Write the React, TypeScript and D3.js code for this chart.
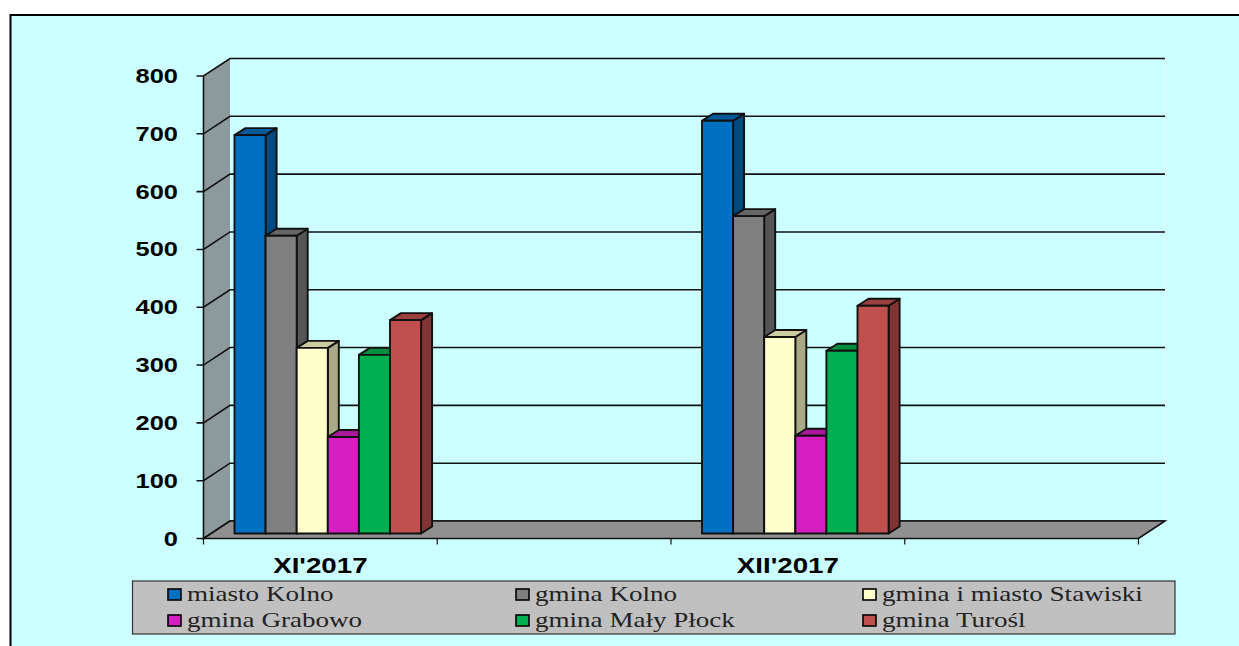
import React from "react";
import * as d3 from "d3";

const categories = ["XI'2017", "", "XII'2017", ""];
const seriesNames = ["miasto Kolno", "gmina Kolno", "gmina i miasto Stawiski", "gmina Grabowo", "gmina Mały Płock", "gmina Turośl"];
const valuesXI = [689, 515, 321, 167, 309, 369];
const valuesXII = [714, 549, 340, 169, 316, 394];
const yTicks = [0, 100, 200, 300, 400, 500, 600, 700, 800];
const fronts = ["#0070C0", "#808080", "#FFFFCC", "#D51FC0", "#00B050", "#C0504D"];
const sides = ["#004A80", "#555555", "#A9A986", "#8E1580", "#007535", "#803533"];
const tops = ["#005A9A", "#666666", "#CCCCA3", "#AA199A", "#008D40", "#9A403E"];

const x = d3.scaleBand().domain(categories.map((c, i) => String(i))).range([203.5, 1138.5]);
const y = d3.scaleLinear().domain([0, 800]).range([538.5, 76]);
const WALL_DX = 26.5, WALL_DY = -17.5;
const BAR_DX = 11, BAR_DY = -7;
const BAR_OFF_X = 31, BAR_OFF_Y = -5;
const BAR_W = 31.1;
const INK = "#111";

const pts = (a: number[][]) => a.map((p) => p.join(",")).join(" ");

function Stretch({ x: px, y: py, sx, anchor, children, style }: any) {
  return (
    <text transform={`translate(${px},${py}) scale(${sx},1)`} textAnchor={anchor} style={style}>
      {children}
    </text>
  );
}

const axisFont = { fontFamily: "'Liberation Sans', Arial, sans-serif", fontWeight: 700, fontSize: 20, fill: "#000" };
const catFont = { ...axisFont, fontSize: 22 };
const legendFont = { fontFamily: "'Liberation Serif', serif", fontSize: 20.5, fill: "#222" };

const legendCols = [168, 516, 863];

export default function App() {
  const left = x.range()[0], right = x.range()[1];
  const y0 = y(0), yTop = y(800);
  const groups = [
    { band: "0", values: valuesXI },
    { band: "2", values: valuesXII },
  ];
  return (
    <svg width={1239} height={646} style={{ position: "absolute", left: 0, top: 0 }}>
      <rect width={1239} height={646} fill="#fff" />
      <rect x={10} y={15} width={1229} height={631} fill="#CCFFFF" />
      <path d="M10.5,646V15H1239" fill="none" stroke="#000" strokeWidth={2} />

      {/* side wall */}
      <polygon points={pts([[left, y0], [left + WALL_DX, y0 + WALL_DY], [left + WALL_DX, yTop + WALL_DY], [left, yTop]])} fill="#8C9A9E" />
      <line x1={right + WALL_DX} x2={right + WALL_DX} y1={yTop + WALL_DY} y2={y0 + WALL_DY} stroke="#E4F6F6" />

      {/* gridlines */}
      {yTicks.map((t) => (
        <g key={t}>
          <path d={`M${left - 7},${y(t)}H${left}L${left + WALL_DX},${y(t) + WALL_DY}H${right + WALL_DX}`} fill="none" stroke={INK} strokeWidth={1.6} />
          <Stretch x={178} y={y(t) + 7} sx={1.27} anchor="end" style={axisFont}>{t}</Stretch>
        </g>
      ))}
      <line x1={left} x2={left} y1={yTop} y2={y0} stroke={INK} strokeWidth={1.6} />

      {/* floor */}
      <polygon points={pts([[left, y0], [right, y0], [right + WALL_DX, y0 + WALL_DY], [left + WALL_DX, y0 + WALL_DY]])} fill="#909090" stroke={INK} strokeWidth={1.6} />

      {/* category ticks and labels */}
      {d3.range(5).map((i) => {
        const tx = left + i * x.step();
        return <line key={i} x1={tx} x2={tx} y1={y0} y2={y0 + 6} stroke={INK} strokeWidth={1.2} />;
      })}
      {categories.map((c, i) =>
        c ? (
          <Stretch key={i} x={x(String(i))! + x.bandwidth() / 2} y={573} sx={1.26} anchor="middle" style={catFont}>{c}</Stretch>
        ) : null
      )}

      {/* bars */}
      {groups.map((g) =>
        g.values.map((v, i) => {
          const x0 = x(g.band)! + BAR_OFF_X + i * BAR_W;
          const x1 = x0 + BAR_W;
          const b = y(0) + BAR_OFF_Y;
          const t = y(v) + BAR_OFF_Y;
          return (
            <g key={g.band + i} stroke={INK} strokeWidth={1.9} strokeLinejoin="round">
              <polygon points={pts([[x1, b], [x1 + BAR_DX, b + BAR_DY], [x1 + BAR_DX, t + BAR_DY], [x1, t]])} fill={sides[i]} />
              <polygon points={pts([[x0, t], [x0 + BAR_DX, t + BAR_DY], [x1 + BAR_DX, t + BAR_DY], [x1, t]])} fill={tops[i]} />
              <rect x={x0} y={t} width={BAR_W} height={b - t} fill={fronts[i]} />
            </g>
          );
        })
      )}

      {/* legend */}
      <rect x={132.5} y={581} width={1042.5} height={53} fill="#C0C0C0" stroke="#333" strokeWidth={1.2} />
      {seriesNames.map((n, i) => {
        const col = i % 3, row = Math.floor(i / 3);
        const kx = legendCols[col], ky = 589 + row * 26;
        return (
          <g key={n}>
            <rect x={kx} y={ky} width={13} height={11} fill={fronts[i]} stroke="#000" strokeWidth={1.6} />
            <Stretch x={kx + 19} y={ky + 12} sx={1.32} anchor="start" style={legendFont}>{n}</Stretch>
          </g>
        );
      })}
    </svg>
  );
}
